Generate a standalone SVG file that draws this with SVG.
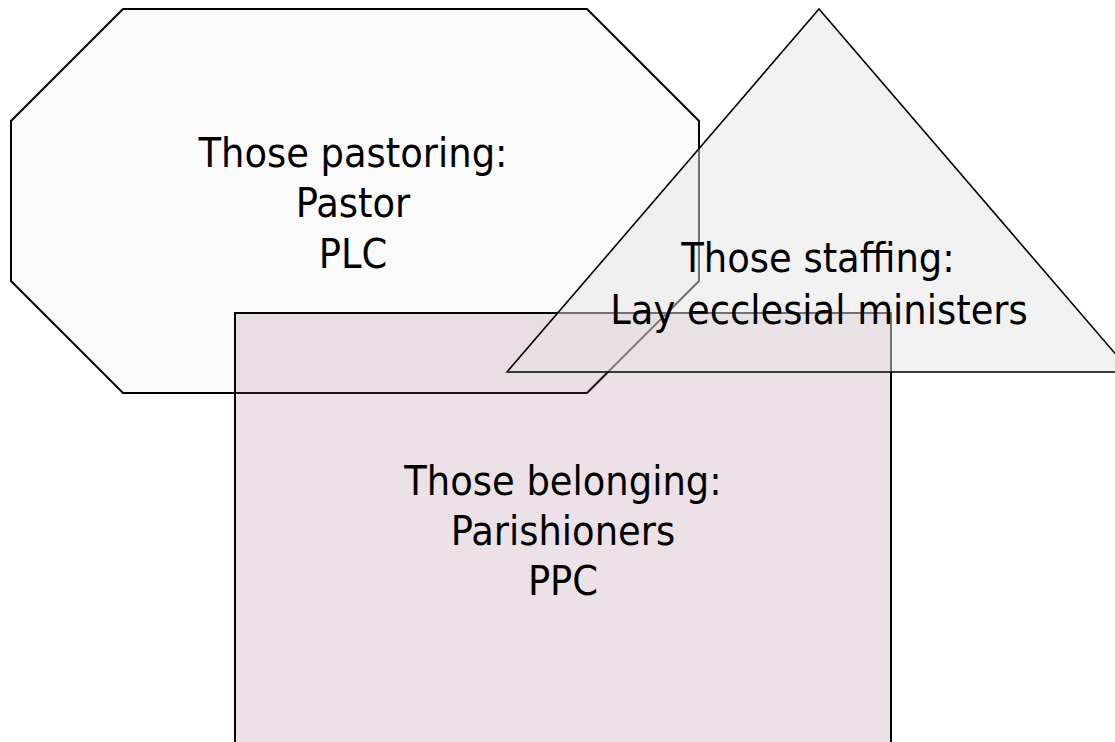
<svg xmlns="http://www.w3.org/2000/svg" width="1115" height="742" viewBox="0 0 1115 742">
<style>
.lbl{font-family:"DejaVu Sans Condensed","DejaVu Sans",sans-serif;font-stretch:condensed;font-size:41px;fill:#000;text-anchor:middle}
.shape{stroke:#000;stroke-linejoin:miter}
</style>
<rect x="0" y="0" width="1115" height="742" fill="#ffffff"/>
<g id="pastoring">
<polygon class="shape" points="123,9 587,9 699,121 699,281 587,393 123,393 11,281 11,121" fill="#fafafa" stroke-width="2"/>
<text class="lbl" x="353" y="167">Those pastoring:</text>
<text class="lbl" x="353" y="217">Pastor</text>
<text class="lbl" x="353" y="268">PLC</text>
</g>
<g id="belonging">
<rect class="shape" x="235" y="313" width="656" height="460" fill="#985c7d" fill-opacity="0.185" stroke-width="2"/>
<text class="lbl" x="563" y="495">Those belonging:</text>
<text class="lbl" x="563" y="545">Parishioners</text>
<text class="lbl" x="563" y="595">PPC</text>
</g>
<g id="staffing">
<polygon class="shape" points="819,9 507,372 1131,372" fill="#e4e4e4" fill-opacity="0.5" stroke-width="1.6"/>
<text class="lbl" x="818" y="272">Those staffing:</text>
<text class="lbl" x="819" y="324">Lay ecclesial ministers</text>
</g>
<g id="connectors"/>
</svg>
